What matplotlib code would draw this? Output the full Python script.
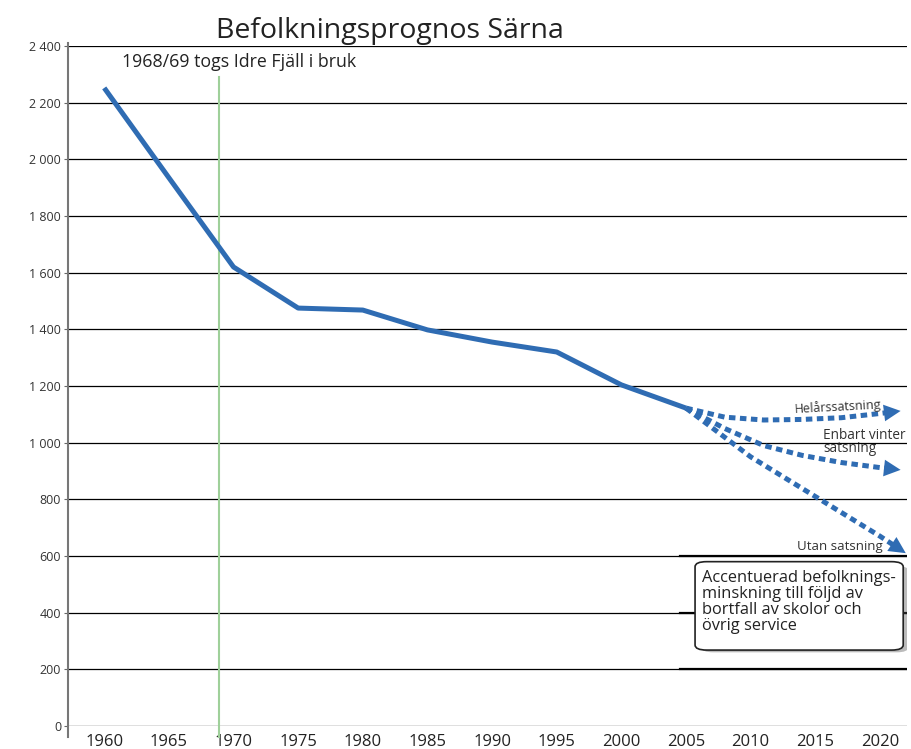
import matplotlib.pyplot as plt
from matplotlib.patches import FancyBboxPatch

plt.rcParams['font.family'] = ['Open Sans', 'DejaVu Sans']

# historisk befolkning
years = [1960, 1965, 1970, 1975, 1980, 1985, 1990, 1995, 2000, 2005]
population = [2252, 1935, 1620, 1475, 1468, 1398, 1355, 1320, 1204, 1122]

# prognoser (sista punkten = pilspets)
prog_years = [2005, 2008, 2011, 2014, 2017, 2020, 2021.6]
helar = [1122, 1090, 1080, 1082, 1088, 1103, 1112]
vinter = [1122, 1050, 990, 955, 930, 912, 904]
utan_years = [2005, 2010, 2015, 2020, 2022]
utan = [1122, 950, 810, 670, 610]

xticks = list(range(1960, 2021, 5))
yticks = list(range(0, 2401, 200))
ylabels = ['{:,}'.format(v).replace(',', ' ') for v in yticks]

blue = '#2f6cb3'

fig = plt.figure(figsize=(9.12, 7.49), dpi=100)
ax = fig.add_axes([0.0746, 0.0307, 0.92, 0.9079])
ax.set_xlim(1957.2, 2022.1)
ax.set_ylim(0, 2400)

for v in yticks:
    ax.axhline(v, color='black', lw=0.9, zorder=1)

ax.plot(years, population, color=blue, lw=3.6, solid_capstyle='butt', zorder=3)

def dotted(xs, ys):
    # linjen stannar lite före spetsen, pilhuvudet täcker resten
    ex = xs[-2] + (xs[-1] - xs[-2]) * 0.6
    ey = ys[-2] + (ys[-1] - ys[-2]) * 0.6
    ax.plot(list(xs[:-1]) + [ex], list(ys[:-1]) + [ey], color=blue, lw=3.6,
            linestyle=(0, (1.3, 0.9)), zorder=3)
    ax.annotate('', xy=(xs[-1], ys[-1]), xytext=(ex, ey),
                arrowprops=dict(arrowstyle='-|>,head_length=1.2,head_width=0.6',
                                color=blue, lw=0, shrinkA=0, shrinkB=0), zorder=4)

dotted(prog_years, helar)
dotted(prog_years, vinter)
dotted(utan_years, utan)

# grön linje 1968/69
ax.plot([1968.9, 1968.9], [-40, 2290], color='#9fd09a', lw=1.5, zorder=2, clip_on=False)

ax.text(2020.1, 1103, 'Helårssatsning', fontsize=9, color='#333333', ha='right', va='baseline',
        rotation=3, zorder=5)
ax.text(2015.6, 1050, 'Enbart vinter\nsatsning', fontsize=9.8, color='#333333', ha='left', va='top',
        linespacing=0.8, zorder=5)
ax.text(2020.25, 621, 'Utan satsning', fontsize=9.5, color='#333333', ha='right', va='baseline', zorder=5)
ax.text(1961.4, 2343, '1968/69 togs Idre Fjäll i bruk', fontsize=12.8, color='#222222',
        ha='left', va='center')

# tjockare linjer bakom rutan
for v in [600, 400, 200]:
    ax.plot([2004.5, 2022.1], [v, v], color='black', lw=1.6, zorder=1)

# ruta med skugga
shadow = FancyBboxPatch((2006.2, 260), 16.0, 305, boxstyle='round,pad=0,rounding_size=0.9',
                        transform=ax.transData, facecolor='#555555', edgecolor='none',
                        alpha=0.4, zorder=5, mutation_aspect=20)
ax.add_patch(shadow)
box = FancyBboxPatch((2005.7, 268), 16.1, 312, boxstyle='round,pad=0,rounding_size=0.9',
                     transform=ax.transData, facecolor='white', edgecolor='#222222',
                     lw=1.2, zorder=6, mutation_aspect=20)
ax.add_patch(box)
ax.text(2006.2, 552, 'Accentuerad befolknings-\nminskning till följd av\nbortfall av skolor och\növrig service',
        fontsize=11.8, color='#222222', ha='left', va='top', linespacing=1.0, zorder=7)

ax.set_xticks(xticks)
ax.set_xticklabels([str(x) for x in xticks], fontsize=12, color='#222222')
ax.set_yticks(yticks)
ax.set_yticklabels(ylabels, fontsize=9, color='#333333')
ax.tick_params(axis='x', length=0, pad=6)
ax.tick_params(axis='y', length=3, width=0.8, color='#666666', pad=2)
for s in ['top', 'right', 'bottom']:
    ax.spines[s].set_visible(False)
ax.spines['left'].set_color('#777777')
ax.spines['left'].set_linewidth(1.5)
ax.spines['left'].set_bounds(-40, 2410)

fig.text(0.428, 0.959, 'Befolkningsprognos Särna', fontsize=20.5, color='#222222', ha='center', va='center')

fig.savefig('out.png', dpi=100)
